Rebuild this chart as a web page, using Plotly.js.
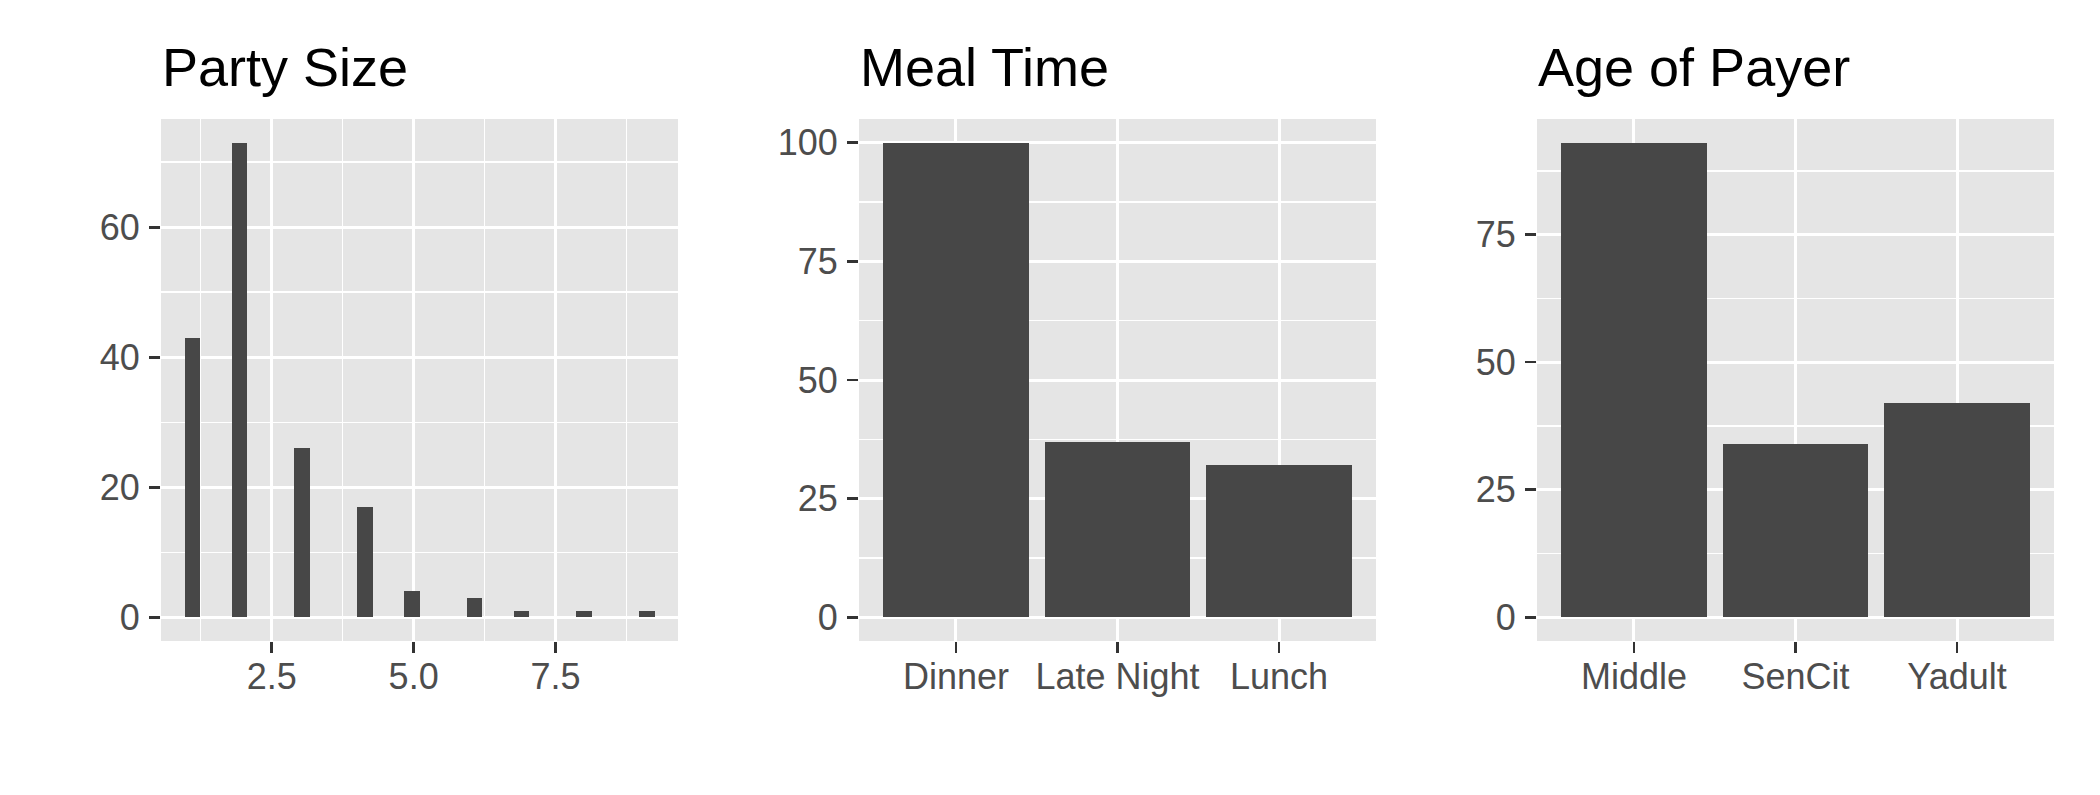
<!DOCTYPE html>
<html>
<head>
<meta charset="utf-8">
<script src="https://cdn.plot.ly/plotly-3.0.1.min.js"></script>
<style>html,body{margin:0;padding:0;background:#fff;}#chart{width:2100px;height:795px;}</style>
</head>
<body>
<div id="chart"></div>
<script>
// ---- data ----
const partySizes = [1, 2, 3, 4, 5, 6, 7, 8, 9];
const partyCounts = [43, 73, 26, 17, 4, 3, 1, 1, 1];
const partyTicks = [2.5, 5.0, 7.5];
const mealTimes = ['Dinner', 'Late Night', 'Lunch'];
const mealCounts = [100, 37, 32];
const payerAges = ['Middle', 'SenCit', 'Yadult'];
const payerCounts = [93, 34, 42];
const titles = ['Party Size', 'Meal Time', 'Age of Payer'];

// ---- ggplot2-style histogram binning (30 bins) ----
const nBins = 30;
const xmin = Math.min(...partySizes), xmax = Math.max(...partySizes);
const binW = (xmax - xmin) / (nBins - 1);
const boundary = binW / 2;
const origin = boundary + Math.floor((xmin - boundary) / binW) * binW;
const binCenters = partySizes.map(v => origin + (Math.floor((v - origin) / binW) + 0.5) * binW);
const histLo = origin, histHi = origin + nBins * binW;
const histPad = 0.05 * (histHi - histLo);

const W = 2100, H = 795;
const doms = [[161, 678], [859, 1376], [1537, 2054]].map(d => [d[0] / W, d[1] / W]);
const yDom = [(H - 641) / H, (H - 119) / H];
const barColor = '#474747';
const FONT = 'Liberation Sans, Arial, Helvetica, sans-serif';

const traces = [
  {type: 'bar', x: binCenters, y: partyCounts, width: binCenters.map(() => binW),
   marker: {color: barColor, line: {width: 0}}, xaxis: 'x', yaxis: 'y', hoverinfo: 'x+y'},
  {type: 'bar', x: mealTimes, y: mealCounts, width: 0.9,
   marker: {color: barColor, line: {width: 0}}, xaxis: 'x2', yaxis: 'y2'},
  {type: 'bar', x: payerAges, y: payerCounts, width: 0.9,
   marker: {color: barColor, line: {width: 0}}, xaxis: 'x3', yaxis: 'y3'}
];

const tickFont = {family: FONT, size: 36, color: '#4D4D4D'};
function axisBase() {
  return {
    showline: false, zeroline: false,
    showgrid: true, gridcolor: '#FFFFFF', gridwidth: 3,
    ticks: 'outside', ticklen: 11, tickwidth: 2.7, tickcolor: '#333333',
    tickfont: tickFont, fixedrange: true
  };
}
function yAxis(maxv, dtick, anchor) {
  return Object.assign(axisBase(), {
    domain: yDom, anchor: anchor,
    range: [-0.05 * maxv, 1.05 * maxv],
    tickmode: 'linear', tick0: 0, dtick: dtick,
    ticklabelstandoff: 2,
    minor: {tick0: dtick / 2, dtick: dtick, showgrid: true, gridcolor: '#FFFFFF', gridwidth: 1.5, ticks: ''}
  });
}

const layout = {
  width: W, height: H,
  margin: {l: 0, r: 0, t: 0, b: 0},
  paper_bgcolor: '#FFFFFF', plot_bgcolor: '#E5E5E5',
  showlegend: false, bargap: 0,
  font: {family: FONT},
  xaxis: Object.assign(axisBase(), {
    domain: doms[0], anchor: 'y',
    range: [histLo - histPad, histHi + histPad],
    tickmode: 'array', tickvals: partyTicks, ticktext: partyTicks.map(v => v.toFixed(1)),
    ticklabelstandoff: -7,
    minor: {tickmode: 'array', tickvals: [partyTicks[0] - 1.25].concat(partyTicks.map(v => v + 1.25)),
            showgrid: true, gridcolor: '#FFFFFF', gridwidth: 1.5, ticks: ''}
  }),
  yaxis: yAxis(Math.max(...partyCounts), 20, 'x'),
  xaxis2: Object.assign(axisBase(), {
    domain: doms[1], anchor: 'y2', type: 'category',
    range: [-0.6, mealTimes.length - 0.4], ticklabelstandoff: -7
  }),
  yaxis2: yAxis(Math.max(...mealCounts), 25, 'x2'),
  xaxis3: Object.assign(axisBase(), {
    domain: doms[2], anchor: 'y3', type: 'category',
    range: [-0.6, payerAges.length - 0.4], ticklabelstandoff: -7
  }),
  yaxis3: yAxis(Math.max(...payerCounts), 25, 'x3'),
  annotations: titles.map((t, i) => ({
    text: t, xref: 'paper', yref: 'paper',
    x: doms[i][0], y: (H - 67) / H, xanchor: 'left', yanchor: 'middle',
    showarrow: false, borderpad: 0,
    font: {family: FONT, size: 54, color: '#000000'}
  }))
};

Plotly.newPlot('chart', traces, layout, {displayModeBar: false, staticPlot: true});
</script>
</body>
</html>
